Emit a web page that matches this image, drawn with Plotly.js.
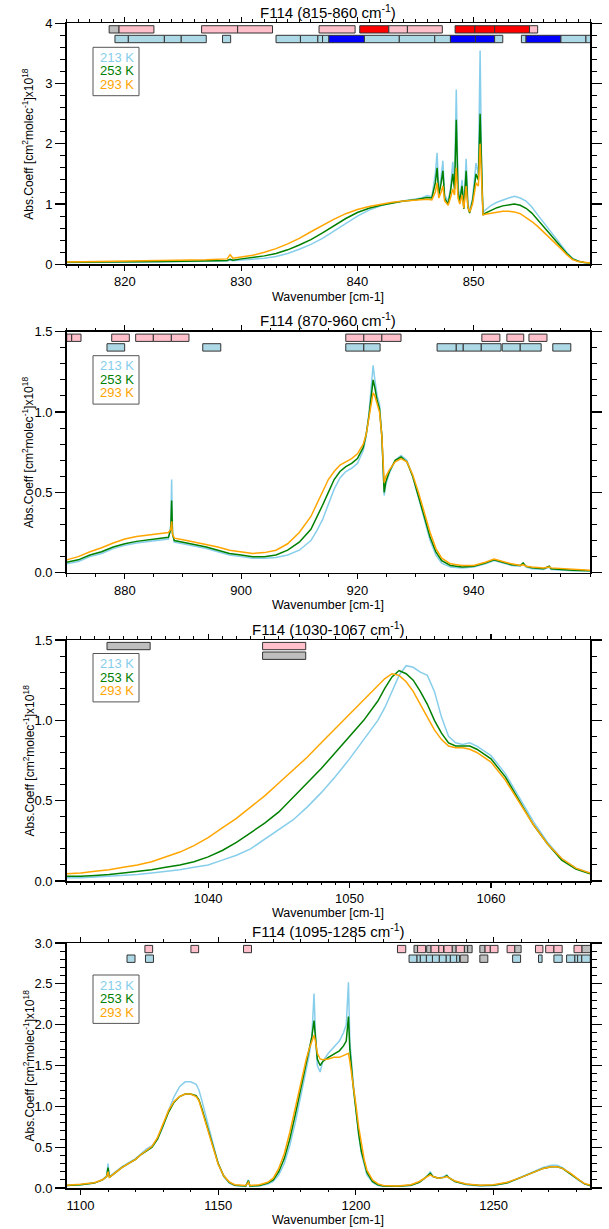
<!DOCTYPE html>
<html><head><meta charset="utf-8">
<script src="https://cdn.plot.ly/plotly-3.0.1.min.js"></script>
<style>html,body{margin:0;padding:0;background:#fff}</style>
</head><body><div id="chart" style="width:609px;height:1229px"></div>
<script>
// ---------------- DATA ----------------
const tempLabels = ['213 K', '253 K', '293 K'];

// Panel 1: 815-860
const wn1 = [815,817,819,821,823,825,827,828.8,829.05,829.3,830,831,832,833,834,835,836,837,838,839,840,841,842,843,844,845,845.5,846,846.4,846.7,846.85,847.0,847.2,847.35,847.5,847.8,848.0,848.2,848.35,848.5,848.65,848.8,849.0,849.15,849.35,849.5,849.65,849.9,850.2,850.4,850.55,850.7,850.8,851,851.5,852,852.5,853,853.5,854,854.5,855,855.5,856,856.5,857,857.5,858,858.5,859,859.5,860];
const k213_1 = [0.03,0.03,0.035,0.035,0.04,0.045,0.05,0.055,0.07,0.058,0.07,0.08,0.1,0.13,0.18,0.25,0.33,0.43,0.55,0.68,0.8,0.9,0.97,1.02,1.05,1.08,1.1,1.14,1.12,1.5,1.85,1.2,1.45,1.72,1.15,1.05,1.25,1.7,1.3,2.9,1.3,1.1,1.4,0.95,1.75,1.0,0.88,1.1,1.68,1.5,3.55,1.3,0.86,0.9,0.98,1.03,1.07,1.1,1.13,1.1,1.05,0.95,0.82,0.7,0.58,0.45,0.33,0.2,0.1,0.05,0.03,0.02];
const k253_1 = [0.035,0.035,0.04,0.04,0.045,0.05,0.06,0.065,0.085,0.068,0.09,0.11,0.14,0.18,0.24,0.32,0.41,0.52,0.64,0.76,0.86,0.93,0.98,1.02,1.05,1.07,1.09,1.11,1.1,1.35,1.6,1.15,1.35,1.55,1.1,1.0,1.2,1.5,1.25,2.4,1.2,1.05,1.3,0.92,1.55,0.95,0.85,1.05,1.5,1.4,2.5,1.2,0.82,0.85,0.9,0.94,0.97,0.99,1.0,0.98,0.93,0.85,0.74,0.63,0.52,0.4,0.29,0.18,0.09,0.05,0.03,0.02];
const k293_1 = [0.04,0.045,0.05,0.05,0.055,0.065,0.075,0.09,0.16,0.1,0.12,0.15,0.2,0.26,0.34,0.43,0.54,0.65,0.75,0.84,0.91,0.96,1.0,1.03,1.05,1.06,1.07,1.08,1.07,1.2,1.35,1.1,1.2,1.3,1.05,0.98,1.1,1.25,1.15,1.6,1.1,1.0,1.15,0.93,1.3,0.95,0.87,1.0,1.35,1.3,2.0,1.1,0.82,0.83,0.85,0.87,0.88,0.88,0.87,0.84,0.78,0.71,0.63,0.54,0.45,0.36,0.26,0.16,0.08,0.045,0.03,0.02];

// Panel 2: 870-960
const wn2 = [870,872,874,876,878,880,882,884,886,887.5,887.9,888.05,888.2,888.5,890,892,894,896,898,900,902,904,906,908,910,912,913,914,915,916,917,918,919,920,921,921.5,922,922.4,922.7,923,923.4,923.8,924.2,924.6,924.9,925.5,926.5,927.5,928.5,929.5,930.5,931.5,932.5,933.5,934.5,936,938,940,942,943.5,945,946.5,948,948.5,949,950,952,953,953.3,955,957,960];
const k213_2 = [0.055,0.07,0.1,0.12,0.15,0.17,0.185,0.195,0.205,0.21,0.3,0.58,0.25,0.19,0.18,0.165,0.15,0.13,0.11,0.1,0.09,0.09,0.095,0.11,0.14,0.2,0.26,0.33,0.42,0.52,0.59,0.63,0.65,0.68,0.76,0.85,1.0,1.15,1.29,1.2,1.1,1.05,0.85,0.48,0.55,0.62,0.7,0.73,0.7,0.6,0.47,0.33,0.2,0.11,0.06,0.035,0.03,0.035,0.055,0.075,0.06,0.045,0.04,0.06,0.035,0.025,0.02,0.035,0.02,0.015,0.012,0.01];
const k253_2 = [0.065,0.08,0.11,0.13,0.16,0.18,0.195,0.205,0.215,0.22,0.27,0.45,0.24,0.2,0.19,0.175,0.16,0.14,0.12,0.11,0.1,0.1,0.11,0.14,0.19,0.27,0.34,0.42,0.5,0.58,0.63,0.66,0.68,0.71,0.78,0.86,0.98,1.1,1.2,1.15,1.07,1.02,0.85,0.5,0.57,0.63,0.7,0.72,0.69,0.6,0.48,0.35,0.22,0.13,0.075,0.045,0.035,0.04,0.06,0.08,0.065,0.05,0.045,0.06,0.04,0.03,0.025,0.04,0.025,0.02,0.015,0.012];
const k293_2 = [0.08,0.1,0.13,0.155,0.185,0.21,0.225,0.235,0.245,0.25,0.27,0.32,0.24,0.215,0.205,0.19,0.175,0.16,0.14,0.13,0.12,0.125,0.14,0.18,0.25,0.35,0.43,0.51,0.58,0.63,0.67,0.69,0.71,0.74,0.8,0.86,0.96,1.05,1.12,1.1,1.05,1.0,0.85,0.56,0.6,0.64,0.69,0.71,0.69,0.61,0.5,0.38,0.25,0.15,0.09,0.055,0.045,0.045,0.065,0.085,0.07,0.055,0.045,0.05,0.04,0.035,0.03,0.035,0.03,0.025,0.02,0.015];

// Panel 3: 1030-1067
const wn3 = [1030,1031,1032,1033,1034,1035,1036,1037,1038,1039,1040,1041,1042,1043,1044,1045,1046,1047,1048,1049,1050,1051,1052,1052.5,1053,1053.5,1054,1054.5,1055,1055.5,1056,1056.5,1057,1057.5,1058,1058.5,1059,1060,1061,1062,1063,1064,1065,1066,1067];
const k213_3 = [0.02,0.02,0.025,0.03,0.035,0.04,0.05,0.06,0.07,0.085,0.1,0.13,0.16,0.2,0.26,0.32,0.38,0.46,0.55,0.65,0.76,0.88,1.0,1.08,1.18,1.28,1.34,1.33,1.3,1.28,1.18,1.02,0.9,0.86,0.85,0.86,0.84,0.78,0.67,0.52,0.37,0.24,0.14,0.08,0.05];
const k253_3 = [0.03,0.03,0.035,0.04,0.05,0.06,0.07,0.085,0.1,0.12,0.15,0.19,0.24,0.3,0.36,0.43,0.52,0.61,0.7,0.8,0.9,1.0,1.12,1.2,1.27,1.31,1.29,1.25,1.18,1.1,1.0,0.92,0.86,0.84,0.84,0.84,0.82,0.76,0.65,0.5,0.35,0.23,0.13,0.075,0.045];
const k293_3 = [0.045,0.05,0.06,0.07,0.085,0.1,0.12,0.15,0.18,0.22,0.27,0.33,0.39,0.46,0.53,0.61,0.69,0.77,0.86,0.95,1.04,1.13,1.22,1.26,1.29,1.28,1.24,1.18,1.1,1.02,0.94,0.88,0.84,0.83,0.83,0.82,0.8,0.74,0.63,0.49,0.35,0.23,0.14,0.08,0.05];

// Panel 4: 1095-1285
const wn4 = [1095,1100,1105,1108,1109.5,1110,1110.5,1112,1115,1118,1120,1122,1124,1126,1128,1130,1132,1134,1136,1138,1140,1142,1143,1144,1146,1148,1150,1152,1154,1156,1160,1161,1161.5,1165,1168,1170,1172,1174,1176,1178,1180,1182,1183,1184,1184.8,1185.3,1186,1187,1188,1190,1192,1194,1195.5,1196.5,1197.3,1197.8,1199,1200,1201,1202,1203,1204,1206,1208,1210,1215,1220,1223,1225,1226.5,1227,1228,1230,1232,1233,1234,1236,1240,1245,1250,1255,1260,1264,1268,1271,1273,1275,1278,1281,1283,1285];
const k213_4 = [0.03,0.04,0.06,0.1,0.15,0.3,0.14,0.18,0.26,0.32,0.36,0.42,0.48,0.52,0.6,0.75,0.95,1.12,1.24,1.3,1.3,1.27,1.2,1.08,0.82,0.55,0.3,0.14,0.06,0.03,0.02,0.1,0.02,0.025,0.05,0.08,0.16,0.3,0.52,0.8,1.12,1.45,1.62,1.85,2.38,1.9,1.5,1.42,1.55,1.65,1.72,1.8,1.9,2.0,2.52,1.8,1.3,0.95,0.65,0.42,0.27,0.16,0.07,0.03,0.02,0.02,0.03,0.07,0.12,0.17,0.2,0.14,0.12,0.14,0.16,0.12,0.08,0.04,0.025,0.03,0.06,0.13,0.19,0.25,0.28,0.28,0.25,0.17,0.09,0.05,0.03];
const k253_4 = [0.03,0.04,0.06,0.1,0.14,0.25,0.13,0.17,0.25,0.31,0.35,0.41,0.46,0.5,0.6,0.76,0.93,1.05,1.12,1.15,1.15,1.13,1.08,0.98,0.76,0.52,0.3,0.15,0.07,0.035,0.025,0.09,0.025,0.03,0.06,0.1,0.2,0.36,0.6,0.9,1.22,1.52,1.68,1.85,2.05,1.85,1.58,1.5,1.55,1.6,1.64,1.68,1.74,1.8,2.1,1.7,1.25,0.95,0.67,0.45,0.3,0.19,0.08,0.04,0.025,0.02,0.035,0.07,0.12,0.16,0.18,0.14,0.12,0.13,0.15,0.12,0.08,0.045,0.03,0.035,0.065,0.13,0.19,0.24,0.26,0.26,0.24,0.17,0.09,0.05,0.03];
const k293_4 = [0.035,0.045,0.065,0.1,0.14,0.2,0.13,0.17,0.25,0.31,0.35,0.41,0.46,0.51,0.62,0.78,0.95,1.06,1.12,1.15,1.15,1.12,1.07,0.96,0.74,0.5,0.29,0.15,0.075,0.04,0.03,0.07,0.03,0.04,0.07,0.12,0.24,0.42,0.68,0.98,1.3,1.58,1.7,1.8,1.87,1.8,1.65,1.58,1.57,1.58,1.6,1.6,1.62,1.63,1.65,1.55,1.28,1.02,0.75,0.52,0.35,0.22,0.1,0.05,0.03,0.025,0.04,0.08,0.12,0.15,0.16,0.14,0.12,0.13,0.14,0.12,0.085,0.05,0.035,0.04,0.07,0.13,0.19,0.24,0.26,0.26,0.24,0.18,0.1,0.055,0.035];

// Band bars at the top: [start, end, row, kind]
const bands1 = [
 [818.65,819.5,1,'gray'],[819.5,822.5,1,'pink'],[826.6,829.7,1,'pink'],[829.7,832.7,1,'pink'],[836.7,839.8,1,'pink'],
 [840.2,842.7,1,'red'],[842.7,844.3,1,'pink'],[844.3,847.3,1,'pink'],[848.4,850.1,1,'red'],[850.1,851.8,1,'red'],
 [851.8,854.8,1,'red'],[854.8,855.5,1,'pink'],
 [819.15,820.3,2,'lb'],[820.3,823.4,2,'lb'],[823.4,824.85,2,'lb'],[824.85,827,2,'lb'],[828.4,829.1,2,'lb'],
 [833,835.1,2,'lb'],[835.1,836.6,2,'lb'],[836.6,837,2,'lb'],[837,837.55,2,'lb'],[837.55,840.6,2,'blue'],
 [840.6,843.6,2,'lb'],[843.6,846.65,2,'lb'],[846.65,848,2,'lb'],[848,850.15,2,'blue'],[850.15,851.8,2,'blue'],
 [851.8,852.5,2,'lb'],[854.1,854.5,2,'lb'],[854.5,857.5,2,'blue'],[857.5,859.65,2,'lb'],[859.65,860.1,2,'lb']
];
const bands2 = [
 [870,870.86,1,'pink'],[870.86,872.46,1,'pink'],[877.74,880.77,1,'pink'],[881.86,884.9,1,'pink'],[884.9,888.0,1,'pink'],
 [888.0,891.03,1,'pink'],[918.0,921.1,1,'pink'],[921.1,924.2,1,'pink'],[924.2,927.5,1,'pink'],[941.4,944.5,1,'pink'],
 [945.7,948.6,1,'pink'],[949.5,952.6,1,'pink'],
 [876.93,879.97,2,'lb'],[893.4,896.5,2,'lb'],[918.0,921.1,2,'lb'],[921.1,923.9,2,'lb'],[933.7,937.0,2,'lb'],
 [937.0,938.2,2,'lb'],[938.2,941.3,2,'lb'],[941.3,944.7,2,'lb'],[944.9,948.0,2,'lb'],[948.0,951.6,2,'lb'],[953.6,956.7,2,'lb']
];
const bands3 = [
 [1032.85,1035.9,1,'gray'],[1043.85,1046.9,1,'pink'],[1043.85,1046.9,2,'gray']
];
const bands4 = [
 [1123.4,1126.2,1,'pink'],[1140.1,1142.9,1,'pink'],[1159.2,1162.1,1,'pink'],[1215.1,1218.1,1,'pink'],[1221.1,1222.4,1,'gray'],
 [1222.4,1225.3,1,'pink'],[1225.7,1227.3,1,'gray'],[1227.3,1230.1,1,'pink'],[1230.1,1231.8,1,'pink'],[1232.0,1235.0,1,'pink'],
 [1235.0,1236.4,1,'gray'],[1236.4,1239.4,1,'pink'],[1239.4,1240.6,1,'gray'],[1240.6,1242.2,1,'gray'],[1245.0,1246.9,1,'gray'],
 [1246.9,1248.8,1,'pink'],[1248.8,1251.6,1,'pink'],[1254.9,1257.7,1,'pink'],[1257.7,1260.0,1,'gray'],[1265.2,1267.9,1,'pink'],
 [1268.9,1271.9,1,'pink'],[1271.9,1274.9,1,'pink'],[1279.2,1282.1,1,'pink'],[1282.1,1285.2,1,'gray'],
 [1116.9,1119.8,2,'lb'],[1123.6,1126.5,2,'lb'],[1219.3,1222.2,2,'lb'],[1222.2,1223.4,2,'lb'],[1223.4,1225.6,2,'lb'],
 [1225.6,1227.8,2,'lb'],[1227.8,1230.3,2,'lb'],[1230.3,1232.8,2,'lb'],[1232.8,1234.3,2,'lb'],[1234.3,1236.6,2,'lb'],
 [1236.6,1237.6,2,'lb'],[1237.9,1240.7,2,'gray'],[1245.0,1247.9,2,'gray'],[1256.9,1259.8,2,'lb'],[1266.3,1267.6,2,'lb'],
 [1271.9,1274.9,2,'lb'],[1276.5,1279.5,2,'lb'],[1279.5,1280.5,2,'lb'],[1280.5,1282.0,2,'lb'],[1282.0,1285.1,2,'lb']
];

// Tick labels
const xTicks1 = [820, 830, 840, 850];
const xTicks2 = [880, 900, 920, 940];
const xTicks3 = [1040, 1050, 1060];
const xTicks4 = [1100, 1150, 1200, 1250];
const yTicks1 = [0, 1, 2, 3, 4];
const yTicks2 = [0, 0.5, 1.0, 1.5];
const yTicks3 = [0, 0.5, 1.0, 1.5];
const yTicks4 = [0, 0.5, 1.0, 1.5, 2.0, 2.5, 3.0];

const panelTitles = ['F114 (815-860 cm<sup>-1</sup>)','F114 (870-960 cm<sup>-1</sup>)','F114 (1030-1067 cm<sup>-1</sup>)','F114 (1095-1285 cm<sup>-1</sup>)'];
const xTitle = 'Wavenumber [cm-1]';
const yTitle = 'Abs.Coeff [cm<sup>2</sup>molec<sup>-1</sup>]x10<sup>18</sup>';

// ---------------- STYLE / LAYOUT ----------------
const W = 609, H = 1229;
const FONT = 'Liberation Sans, Arial, Helvetica, sans-serif';
const lineColors = ['#87CEEB', '#008000', '#FFA500'];
const kindColors = {gray:'#BEBEBE', pink:'#FFC0CB', lb:'#ADD8E6', red:'#FF0000', blue:'#0000FF'};
const L = 66.7, R = 590;
const panels = [
  {wn:wn1, ys:[k213_1,k253_1,k293_1], bands:bands1, top:23.3, bottom:264.3, xr:[815,860], yr:[0,4], xt:xTicks1, xm:1, yt:yTicks1, ym:0.2, yfmt:'d', leg:[34,47.5,61]},
  {wn:wn2, ys:[k213_2,k253_2,k293_2], bands:bands2, top:331.7, bottom:572.7, xr:[870,960], yr:[0,1.5], xt:xTicks2, xm:5, yt:yTicks2, ym:0.1, yfmt:'.1f', leg:[34,47.5,61]},
  {wn:wn3, ys:[k213_3,k253_3,k293_3], bands:bands3, top:640, bottom:881, xr:[1030,1067], yr:[0,1.5], xt:xTicks3, xm:1, yt:yTicks3, ym:0.1, yfmt:'.1f', leg:[23.5,37,50.5]},
  {wn:wn4, ys:[k213_4,k253_4,k293_4], bands:bands4, top:943, bottom:1188, xr:[1095,1285], yr:[0,3], xt:xTicks4, xm:10, yt:yTicks4, ym:0.1, yfmt:'.1f', leg:[42,55.5,69]}
];
const px = p => p / W;
const py = p => 1 - p / H;
function rowPos(P, pixTop, pixBot) {
  const k = (P.yr[1]-P.yr[0]) / (P.bottom - P.top);
  const a = P.yr[1] - (pixTop - P.top) * k, b = P.yr[1] - (pixBot - P.top) * k;
  return {c:(a+b)/2, h:(a-b)};
}
const fmt = (v, f) => f === 'd' ? String(v) : v.toFixed(1);

const traces = [], annotations = [], shapes = [];
const layout = {
  width: W, height: H, margin: {l:0, r:0, t:0, b:0},
  paper_bgcolor:'#fff', plot_bgcolor:'#fff', showlegend:false, barmode:'overlay',
  font:{family:FONT, color:'#000'}, hovermode:false,
  annotations, shapes
};

panels.forEach((P, i) => {
  const s = i === 0 ? '' : String(i+1);
  const xa = 'x'+s, ya = 'y'+s;
  layout['xaxis'+s] = {
    domain:[px(L), px(R)], range:P.xr, anchor:ya, showgrid:false, zeroline:false,
    showline:true, mirror:'allticks', linecolor:'#000', linewidth:1.5,
    ticks:'outside', ticklen:5, tickwidth:1.2, tickcolor:'#000',
    tickmode:'array', tickvals:P.xt, ticktext:P.xt.map(String),
    minor:{dtick:P.xm, tick0:0, ticks:'outside', ticklen:2.5, tickwidth:1, tickcolor:'#000'},
    tickfont:{size:13, family:FONT, color:'#000'}, fixedrange:true
  };
  layout['yaxis'+s] = {
    domain:[py(P.bottom), py(P.top)], range:P.yr, anchor:xa, showgrid:false, zeroline:false,
    showline:true, mirror:'allticks', linecolor:'#000', linewidth:1.5,
    ticks:'outside', ticklen:10, tickwidth:1.2, tickcolor:'#000',
    tickmode:'array', tickvals:P.yt, ticktext:P.yt.map(v => fmt(v, P.yfmt)),
    minor:{dtick:P.ym, tick0:0, ticks:'outside', ticklen:5, tickwidth:1, tickcolor:'#000'},
    tickfont:{size:13, family:FONT, color:'#000'}, fixedrange:true
  };
  P.ys.forEach((yv, j) => {
    traces.push({type:'scatter', mode:'lines', x:P.wn, y:yv, xaxis:xa, yaxis:ya,
      line:{color:lineColors[j], width:1.5}, hoverinfo:'skip', name:tempLabels[j]});
  });
  const r1 = rowPos(P, P.top+2.4, P.top+9.7), r2 = rowPos(P, P.top+12.0, P.top+19.4);
  traces.push({type:'bar', orientation:'h', xaxis:xa, yaxis:ya,
    base: P.bands.map(b => b[0]), x: P.bands.map(b => b[1]-b[0]),
    y: P.bands.map(b => b[2] === 1 ? r1.c : r2.c), width: P.bands.map(b => b[2] === 1 ? r1.h : r2.h),
    marker:{color: P.bands.map(b => kindColors[b[3]]), line:{color:'#333', width:1}},
    hoverinfo:'skip', cliponaxis:true});
  annotations.push({text:panelTitles[i], xref:'paper', yref:'paper', x:px((L+R)/2), y:py(P.top-12),
    xanchor:'center', yanchor:'middle', showarrow:false, font:{size:15, family:FONT, color:'#000'}});
  annotations.push({text:xTitle, xref:'paper', yref:'paper', x:px((L+R)/2), y:py(P.bottom+32.4),
    xanchor:'center', yanchor:'middle', showarrow:false, font:{size:12.5, family:FONT, color:'#000'}});
  annotations.push({text:yTitle, xref:'paper', yref:'paper', x:px(28), y:py((P.top+P.bottom)/2),
    xanchor:'center', yanchor:'middle', textangle:-90, showarrow:false, font:{size:12, family:FONT, color:'#000'}});
  const boxTop = P.top + P.leg[0] - 10, boxBot = P.top + P.leg[2] + 11.4;
  shapes.push({type:'rect', xref:'paper', yref:'paper', x0:px(93), x1:px(139), y0:py(boxTop), y1:py(boxBot),
    line:{color:'#555', width:1}, fillcolor:'#fff', layer:'above'});
  P.leg.forEach((off, j) => {
    annotations.push({text:tempLabels[j], xref:'paper', yref:'paper', x:px(97.5), y:py(P.top+off),
      xanchor:'left', yanchor:'middle', showarrow:false, font:{size:13, family:FONT, color:lineColors[j]}});
  });
});

Plotly.newPlot('chart', traces, layout, {staticPlot:true, displayModeBar:false});
</script></body></html>
